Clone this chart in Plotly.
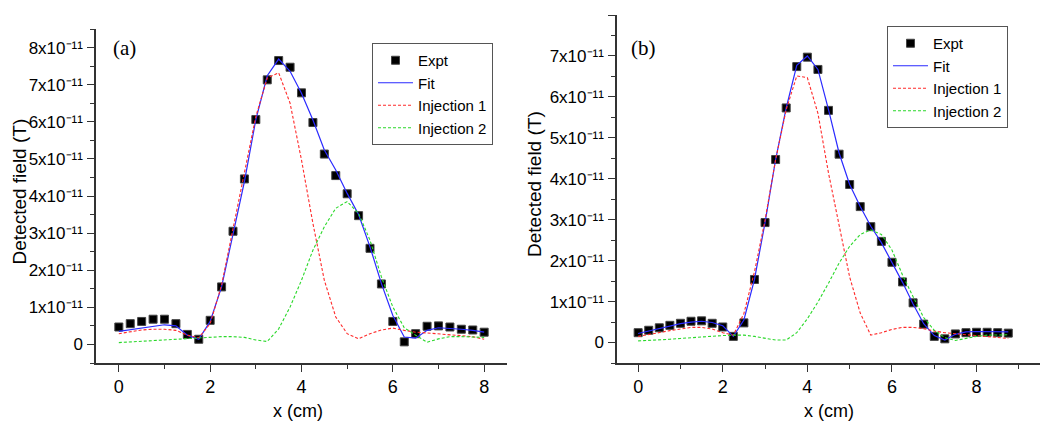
import plotly.graph_objects as go

# values, in units of 1e-11 T
SCALE = 1e-11

# panel (a)
x_a = [i * 0.25 for i in range(33)]
expt_a = [0.47, 0.56, 0.62, 0.68, 0.68, 0.56, 0.27, 0.14, 0.65, 1.55, 3.05, 4.46, 6.06, 7.13, 7.65, 7.47,
          6.78, 5.98, 5.13, 4.55, 4.06, 3.47, 2.59, 1.63, 0.62, 0.07, 0.29, 0.49, 0.50, 0.47, 0.41, 0.39, 0.33]
fit_a = [0.35, 0.40, 0.45, 0.50, 0.53, 0.50, 0.25, 0.14, 0.62, 1.55, 2.99, 4.39, 6.06, 7.24, 7.69, 7.36,
         6.77, 6.05, 5.24, 4.70, 4.07, 3.50, 2.63, 1.64, 0.78, 0.20, 0.17, 0.38, 0.45, 0.44, 0.41, 0.38, 0.33]
inj1_a = [0.29, 0.34, 0.39, 0.41, 0.41, 0.38, 0.25, 0.18, 0.56, 1.60, 3.13, 4.57, 6.14, 7.18, 7.32, 6.50,
          4.97, 3.26, 1.73, 0.74, 0.29, 0.15, 0.29, 0.39, 0.44, 0.38, 0.33, 0.31, 0.29, 0.26, 0.23, 0.21, 0.14]
inj2_a = [0.05, 0.07, 0.09, 0.10, 0.12, 0.13, 0.15, 0.19, 0.20, 0.21, 0.21, 0.19, 0.12, 0.08, 0.42, 1.01,
          1.73, 2.54, 3.17, 3.67, 3.85, 3.53, 2.81, 1.82, 1.01, 0.45, 0.25, 0.06, 0.15, 0.21, 0.21, 0.19, 0.19]

# panel (b)
x_b = [i * 0.25 for i in range(36)]
expt_b = [0.24, 0.30, 0.36, 0.42, 0.47, 0.52, 0.53, 0.47, 0.38, 0.15, 0.48, 1.54, 2.93, 4.47, 5.73, 6.74,
          6.97, 6.67, 5.67, 4.60, 3.86, 3.32, 2.83, 2.47, 1.96, 1.48, 0.97, 0.45, 0.15, 0.09, 0.21, 0.24,
          0.25, 0.25, 0.24, 0.23]
fit_b = [0.22, 0.28, 0.34, 0.40, 0.46, 0.50, 0.52, 0.49, 0.41, 0.15, 0.55, 1.54, 2.93, 4.47, 5.73, 6.77,
         7.00, 6.67, 5.69, 4.63, 3.86, 3.32, 2.84, 2.44, 1.96, 1.47, 0.94, 0.46, 0.17, 0.06, 0.20, 0.26,
         0.27, 0.27, 0.27, 0.26]
inj1_b = [0.15, 0.20, 0.24, 0.29, 0.33, 0.37, 0.37, 0.33, 0.24, 0.18, 0.71, 1.73, 2.99, 4.47, 5.69, 6.51,
          6.47, 5.60, 4.14, 2.83, 1.60, 0.72, 0.18, 0.24, 0.32, 0.37, 0.37, 0.34, 0.28, 0.24, 0.21, 0.19,
          0.17, 0.15, 0.13, 0.10]
inj2_b = [0.04, 0.05, 0.07, 0.08, 0.10, 0.12, 0.14, 0.15, 0.17, 0.18, 0.18, 0.15, 0.10, 0.06, 0.06, 0.24,
          0.58, 0.99, 1.45, 1.94, 2.35, 2.64, 2.75, 2.64, 2.26, 1.65, 1.12, 0.61, 0.30, 0.12, 0.05, 0.10,
          0.15, 0.18, 0.19, 0.19]

FONT = "Liberation Sans, Arial, sans-serif"
SERIF = "Liberation Serif, Times New Roman, serif"
BLUE = "#2a2aff"
RED = "#ff2a2a"
GREEN = "#2ad82a"

# the page body has an 8px margin, so the figure is sized to fit and
# positions below are given in window pixels, then converted
OFF = 8
W, H = 1050 - OFF, 425 - OFF


def px(x):
    return (x - OFF) / W


def py(y):
    return 1 - (y - OFF) / H


fig = go.Figure()


def add_panel(x, expt, fit, inj1, inj2, xa, ya, legend):
    s = lambda v: [a * SCALE for a in v]
    fig.add_trace(go.Scatter(x=x, y=s(expt), mode="markers", name="Expt", xaxis=xa, yaxis=ya, legend=legend,
                             marker=dict(symbol="square", size=8, color="black", line=dict(width=1, color="#444"))))
    fig.add_trace(go.Scatter(x=x, y=s(fit), mode="lines", name="Fit", xaxis=xa, yaxis=ya, legend=legend,
                             line=dict(color=BLUE, width=1.2)))
    fig.add_trace(go.Scatter(x=x, y=s(inj1), mode="lines", name="Injection 1", xaxis=xa, yaxis=ya, legend=legend,
                             line=dict(color=RED, width=1.1, dash="3px,2px")))
    fig.add_trace(go.Scatter(x=x, y=s(inj2), mode="lines", name="Injection 2", xaxis=xa, yaxis=ya, legend=legend,
                             line=dict(color=GREEN, width=1.1, dash="3px,2px")))


add_panel(x_a, expt_a, fit_a, inj1_a, inj2_a, "x", "y", "legend")
add_panel(x_b, expt_b, fit_b, inj1_b, inj2_b, "x2", "y2", "legend2")

ytick_vals = [k * SCALE for k in range(9)]
ytick_text = ["0"] + [f"{k}x10\u207b\u00b9\u00b9" for k in range(1, 9)]

axis_style = dict(showline=True, linecolor="#333", linewidth=1.5, ticks="outside", ticklen=7, tickwidth=1.2,
                  tickcolor="#333", showgrid=False, zeroline=False, tickfont=dict(size=18, color="black"),
                  mirror=False, automargin=False)

x_common = dict(axis_style, tickvals=[0, 2, 4, 6, 8], ticktext=["0", "2", "4", "6", "8"],
                minor=dict(tickvals=[1, 3, 5, 7, 9], ticks="outside", ticklen=4, tickcolor="#333"))
y_common = dict(axis_style, tickvals=ytick_vals, ticktext=ytick_text, ticklabelstandoff=1,
                tickfont=dict(size=17, color="black"),
                minor=dict(tickvals=[(k + 0.5) * SCALE for k in range(-1, 9)], ticks="outside", ticklen=4,
                           tickcolor="#333"))

legend_style = dict(xanchor="left", yanchor="top", bordercolor="#555", borderwidth=1,
                    font=dict(size=15), itemwidth=35, tracegroupgap=0, bgcolor="white")

label = dict(xref="paper", yref="paper", showarrow=False, xanchor="center", yanchor="middle")

fig.update_layout(
    width=W, height=H,
    margin=dict(l=0, r=0, t=0, b=0),
    paper_bgcolor="white", plot_bgcolor="white",
    font=dict(family=FONT, size=16, color="black"),
    xaxis=dict(x_common, domain=[px(96), px(507)], range=[-0.5, 8.5], anchor="y"),
    yaxis=dict(y_common, domain=[py(363), py(29)], range=[-0.5 * SCALE, 8.5 * SCALE], anchor="x"),
    xaxis2=dict(x_common, domain=[px(617), px(1040)], range=[-0.5, 9.5], anchor="y2"),
    yaxis2=dict(y_common, domain=[py(363), py(15)], range=[-0.5 * SCALE, 8 * SCALE], anchor="x2"),
    legend=dict(legend_style, x=px(372), y=py(43)),
    legend2=dict(legend_style, x=px(887), y=py(26)),
    annotations=[
        dict(label, text="(a)", x=px(124), y=py(48), font=dict(family=SERIF, size=21)),
        dict(label, text="(b)", x=px(643), y=py(48), font=dict(family=SERIF, size=21)),
        dict(label, text="Detected field (T)", x=px(19.5), y=py(192), textangle=-90, font=dict(size=19)),
        dict(label, text="Detected field (T)", x=px(534), y=py(184), textangle=-90, font=dict(size=19)),
        dict(label, text="x (cm)", x=px(298), y=py(411), font=dict(size=18)),
        dict(label, text="x (cm)", x=px(829), y=py(411), font=dict(size=18)),
    ],
)

fig.write_html("out.html")
